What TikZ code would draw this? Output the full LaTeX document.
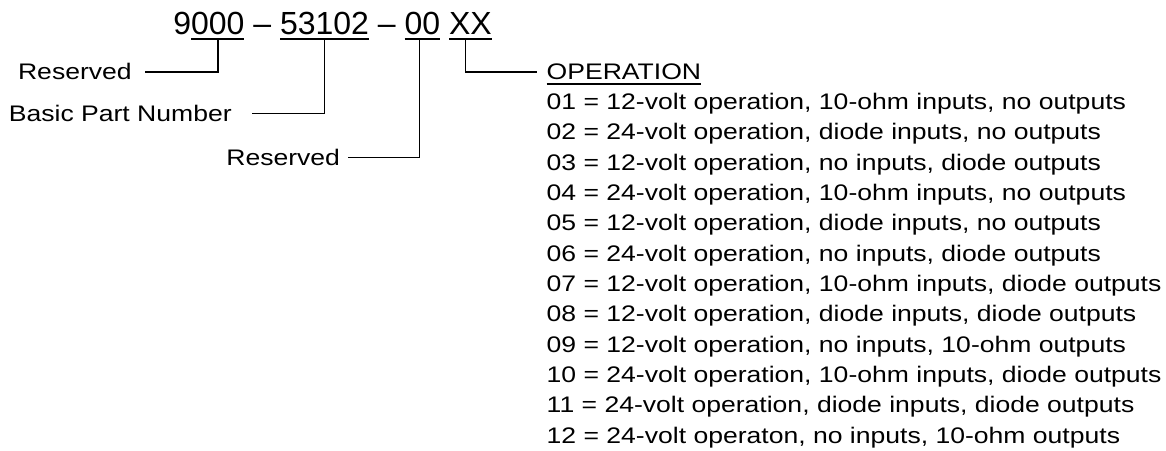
\documentclass[tikz,border=0pt]{standalone}
\usepackage{fontspec}
\setmainfont{Liberation Sans}
\newfontfamily\pnlistfont{Liberation Sans}[FakeStretch=1.18]
\tikzset{
  pn diagram/.style={x=1pt, y=1pt},
  pn seg/.style={anchor=base west, inner xsep=0pt, inner ysep=4.5pt,
    outer sep=0pt, text depth=0pt, font=\fontsize{32}{38}\selectfont},
  pn label/.style={inner sep=0pt, outer sep=0pt, text height=16pt,
    text depth=0pt, font=\pnlistfont\fontsize{22.5}{27}\selectfont},
  pn row/.style={anchor=base west, inner sep=0pt, outer sep=0pt,
    font=\pnlistfont\fontsize{22.5}{27}\selectfont},
  pn line/.style={draw=black, line width=1.6pt},
  pn uline/.style={draw=black, line width=2.4pt}
}

\begin{document}
\begin{tikzpicture}[pn diagram]
  \useasboundingbox (0,0) rectangle (1166,-450);
  % part number
  \node[pn seg] (t9) at (173.3,-34.5) {9};
  \node[pn seg] (res0) at (t9.base east) {000};
  \node[pn seg] (d1) at (res0.base east) {\null~–~\null};
  \node[pn seg] (basic) at (d1.base east) {53102};
  \node[pn seg] (d2) at (basic.base east) {\null~–~\null};
  \node[pn seg] (res00) at (d2.base east) {00};
  \node[pn seg] (xx) at ([xshift=8.9pt]res00.base east) {XX};
  \foreach \n in {res0,basic,res00,xx}
    \draw[pn uline] (\n.south west) -- (\n.south east);
  % labels
  \node[pn label, anchor=east] (lblres) at (131.7,-71.7) {Reserved};
  \node[pn label, anchor=east] (lblbasic) at (231.7,-113.3) {Basic Part Number};
  \node[pn label, anchor=east] (lblres00) at (340,-157.3) {Reserved};
  \node[pn label, anchor=west] (oper) at (546.7,-71.7) {OPERATION};
  \draw[pn line] ([yshift=-4pt]oper.base west) -- ([yshift=-4pt]oper.base east);
  \draw[pn line] (res0.south) |- ([xshift=13pt]lblres.east);
  \draw[pn line] (basic.south) |- ([xshift=20pt]lblbasic.east);
  \draw[pn line] ([xshift=-3pt]res00.south) |- ([xshift=8pt]lblres00.east);
  \draw[pn line] ([xshift=-5pt]xx.south) |- ([xshift=-10pt]oper.west);
  % operation codes
  \foreach \code/\txt [count=\i] in {
      01/{12-volt operation, 10-ohm inputs, no outputs},
      02/{24-volt operation, diode inputs, no outputs},
      03/{12-volt operation, no inputs, diode outputs},
      04/{24-volt operation, 10-ohm inputs, no outputs},
      05/{12-volt operation, diode inputs, no outputs},
      06/{24-volt operation, no inputs, diode outputs},
      07/{12-volt operation, 10-ohm inputs, diode outputs},
      08/{12-volt operation, diode inputs, diode outputs},
      09/{12-volt operation, no inputs, 10-ohm outputs},
      10/{24-volt operation, 10-ohm inputs, diode outputs},
      11/{24-volt operation, diode inputs, diode outputs},
      12/{24-volt operaton, no inputs, 10-ohm outputs}}
    \node[pn row] (row\code) at (546.7,{-109.3-30.35*(\i-1)}) {\code{} = \txt};
\end{tikzpicture}
\end{document}
